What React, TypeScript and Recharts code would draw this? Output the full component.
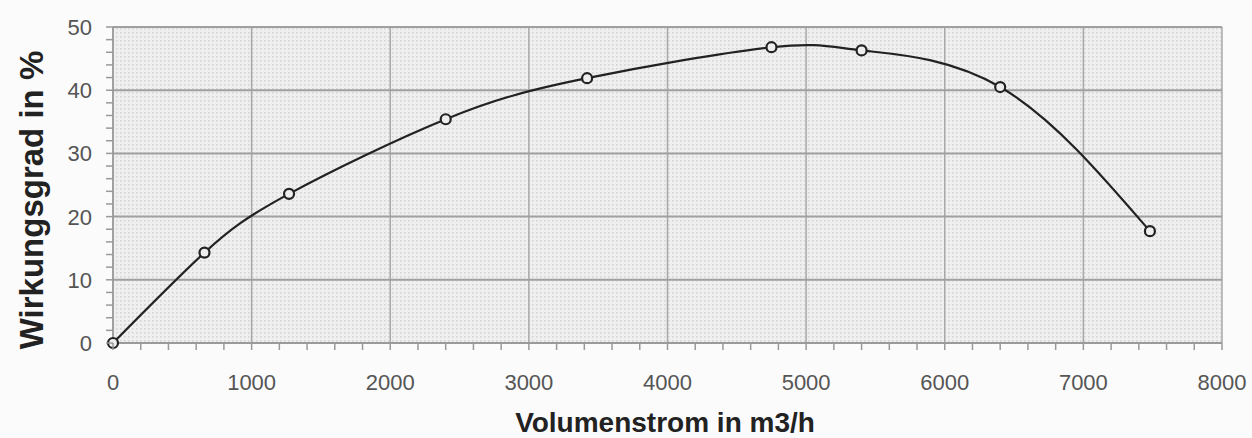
import React from "react";
import {
  LineChart,
  Line,
  XAxis,
  YAxis,
  ReferenceLine,
  ReferenceArea,
} from "recharts";

// Messpunkte
const volumenstrom = [0, 660, 1270, 2400, 3420, 4750, 5400, 6400, 7480];
const wirkungsgrad = [0, 14.3, 23.6, 35.4, 41.9, 46.8, 46.3, 40.5, 17.7];

const xMajorTicks = [0, 1000, 2000, 3000, 4000, 5000, 6000, 7000, 8000];
const yMajorTicks = [0, 10, 20, 30, 40, 50];
const xAllTicks = [
  0, 200, 400, 600, 800, 1000, 1200, 1400, 1600, 1800, 2000, 2200, 2400, 2600,
  2800, 3000, 3200, 3400, 3600, 3800, 4000, 4200, 4400, 4600, 4800, 5000, 5200,
  5400, 5600, 5800, 6000, 6200, 6400, 6600, 6800, 7000, 7200, 7400, 7600, 7800,
  8000,
];
const yAllTicks = [
  0, 2, 4, 6, 8, 10, 12, 14, 16, 18, 20, 22, 24, 26, 28, 30, 32, 34, 36, 38, 40,
  42, 44, 46, 48, 50,
];

const data = volumenstrom.map((x, i) => ({ x, y: wirkungsgrad[i] }));

const FONT = "'Liberation Sans', Arial, sans-serif";

const XTick = (props: any) => {
  const { x, y, payload } = props;
  const major = payload.value % 1000 === 0;
  return (
    <g>
      <line x1={x} x2={x} y1={y} y2={y + 7} stroke="#999" strokeWidth={1.5} />
      {major && (
        <text
          x={x}
          y={y + 47}
          textAnchor="middle"
          fontSize={22}
          fontFamily={FONT}
          fill="#555"
        >
          {payload.value}
        </text>
      )}
    </g>
  );
};

const YTick = (props: any) => {
  const { x, y, payload } = props;
  const major = payload.value % 10 === 0;
  return (
    <g>
      <line x1={x - 7} x2={x} y1={y} y2={y} stroke="#999" strokeWidth={1.5} />
      {major && (
        <text
          x={x - 21}
          y={y}
          dy="0.36em"
          textAnchor="end"
          fontSize={22}
          fontFamily={FONT}
          fill="#555"
        >
          {payload.value}
        </text>
      )}
    </g>
  );
};

const Marker = (props: any) => {
  const { cx, cy } = props;
  return (
    <circle cx={cx} cy={cy} r={5} fill="#eee" stroke="#222" strokeWidth={2.2} />
  );
};

export default function App() {
  return (
    <div style={{ position: "absolute", left: 0, top: 0, background: "#fbfbfb" }}>
      <LineChart
        width={1252}
        height={438}
        data={data}
        margin={{ top: 27, right: 30, bottom: 35, left: 0 }}
      >
        <defs>
          <pattern id="dots" width="4" height="4" patternUnits="userSpaceOnUse">
            <rect width="4" height="4" fill="#efefef" />
            <rect width="1.5" height="1.5" fill="#d2d2d2" />
          </pattern>
        </defs>
        <XAxis
          type="number"
          dataKey="x"
          domain={[0, 8000]}
          ticks={xAllTicks}
          interval={0}
          tickSize={0}
          tickMargin={0}
          tickLine={false}
          tick={<XTick />}
          axisLine={{ stroke: "#999", strokeWidth: 1.5 }}
          height={60}
          label={{
            content: () => (
              <text
                x={665}
                y={432}
                textAnchor="middle"
                fontSize={28}
                fontWeight="bold"
                fontFamily={FONT}
                fill="#222"
              >
                Volumenstrom in m3/h
              </text>
            ),
          }}
        />
        <YAxis
          type="number"
          domain={[0, 50]}
          ticks={yAllTicks}
          interval={0}
          tickSize={0}
          tickMargin={0}
          tickLine={false}
          tick={<YTick />}
          axisLine={{ stroke: "#999", strokeWidth: 1.5 }}
          width={113}
          label={{
            content: () => (
              <text
                x={43}
                y={200}
                transform="rotate(-90, 43, 200)"
                textAnchor="middle"
                fontSize={33}
                fontWeight="bold"
                fontFamily={FONT}
                fill="#222"
              >
                Wirkungsgrad in %
              </text>
            ),
          }}
        />
        <ReferenceArea
          x1={0}
          x2={8000}
          y1={0}
          y2={50}
          fill="url(#dots)"
          fillOpacity={1}
          stroke="none"
        />
        {xMajorTicks.map((v) => (
          <ReferenceLine key={"x" + v} x={v} stroke="#a8a8a8" strokeWidth={1.5} />
        ))}
        {yMajorTicks.map((v) => (
          <ReferenceLine key={"y" + v} y={v} stroke="#a0a0a0" strokeWidth={2} />
        ))}
        <Line
          type="natural"
          dataKey="y"
          stroke="#222"
          strokeWidth={2.2}
          dot={<Marker />}
          activeDot={false}
          isAnimationActive={false}
        />
      </LineChart>
    </div>
  );
}
